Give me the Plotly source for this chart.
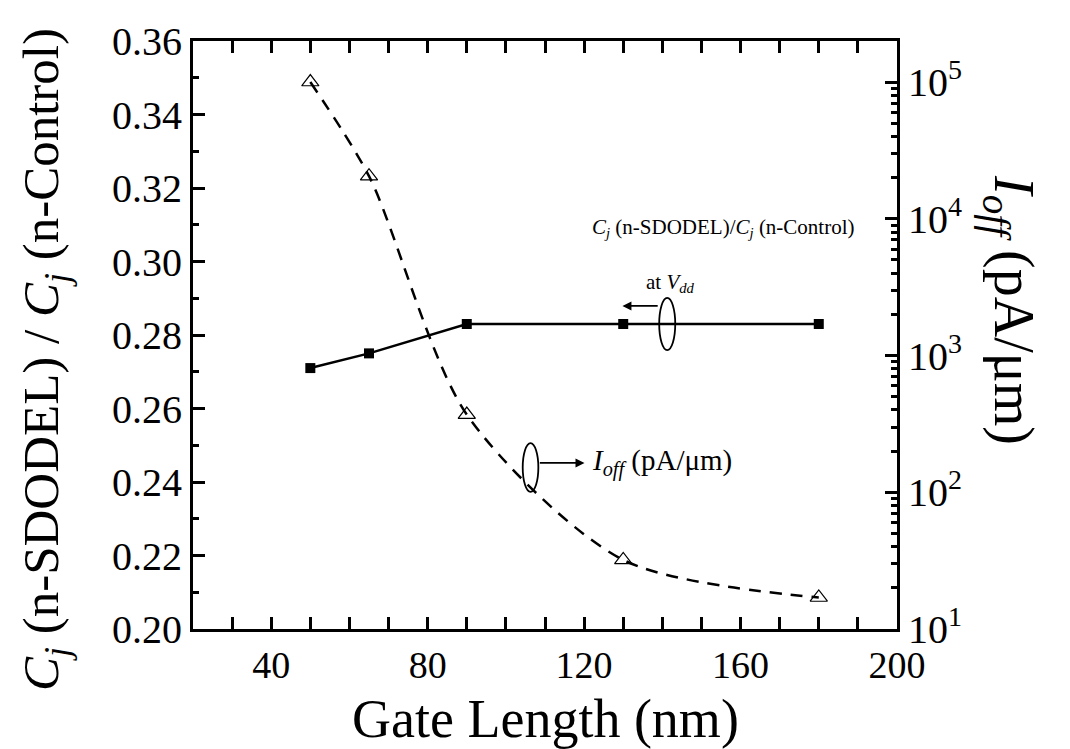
import plotly.graph_objects as go

gate_length = [50, 65, 90, 130, 180]
cj_ratio = [0.271, 0.275, 0.283, 0.283, 0.283]
ioff = [1.0e5, 2.05e4, 370, 32, 17]

x_ticks = [40, 80, 120, 160, 200]
left_ticks = [0.20, 0.22, 0.24, 0.26, 0.28, 0.30, 0.32, 0.34, 0.36]
right_decades = [10, 100, 1000, 10000, 100000]
right_ticktext = ["10<sup>1</sup>", "10<sup>2</sup>", "10<sup>3</sup>", "10<sup>4</sup>", "10<sup>5</sup>"]

FONT = "Liberation Serif"

fig = go.Figure()
fig.add_trace(go.Scatter(
    x=gate_length, y=cj_ratio, mode="lines+markers",
    line=dict(color="black", width=2.5),
    marker=dict(symbol="square", size=10, color="black"),
    yaxis="y", showlegend=False))
fig.add_trace(go.Scatter(
    x=gate_length, y=ioff, mode="lines+markers",
    line=dict(color="black", width=2.5, dash="12px,9px", shape="spline", smoothing=0.8),
    marker=dict(symbol="triangle-up-open", size=15, color="black", line=dict(width=1.2)),
    yaxis="y2", showlegend=False))

minor_log = [m * d for d in [10, 100, 1000, 10000, 100000] for m in range(2, 10)]
minor_log = [v for v in minor_log if v <= 10 ** 5.3]

axis_common = dict(showline=True, linecolor="black", linewidth=3, ticks="inside",
                   tickcolor="black", tickwidth=2.5, showgrid=False, zeroline=False,
                   tickfont=dict(family=FONT, size=40, color="black"))

fig.update_layout(
    width=1070, height=749,
    margin=dict(l=193, r=173, t=41, b=120),
    plot_bgcolor="white", paper_bgcolor="white",
    font=dict(family=FONT, color="black"),
    xaxis=dict(range=[20, 200], tickmode="array", tickvals=x_ticks, ticklen=12,
               mirror="allticks",
               minor=dict(ticks="inside", dtick=10, tick0=0, ticklen=6, tickwidth=2.5, tickcolor="black"),
               **{**axis_common, "tickfont": dict(family=FONT, size=38, color="black")}),
    yaxis=dict(range=[0.20, 0.36], tickmode="array", tickvals=left_ticks, tickformat=".2f",
               ticklen=12,
               minor=dict(ticks="inside", dtick=0.01, tick0=0.2, ticklen=6, tickwidth=2.5, tickcolor="black"),
               **axis_common),
    yaxis2=dict(type="log", range=[1, 5.3], overlaying="y", side="right",
                tickmode="array", tickvals=right_decades, ticktext=right_ticktext, ticklen=12,
                minor=dict(ticks="inside", tickmode="array", tickvals=minor_log, ticklen=6,
                           tickwidth=2.5, tickcolor="black"),
                **axis_common),
)

# ellipses marking series
fig.add_shape(type="circle", xref="x", yref="y", x0=139.2, x1=143.3, y0=0.2759, y1=0.2901,
              line=dict(color="black", width=1.8))
fig.add_shape(type="circle", xref="x", yref="y", x0=104.3, x1=108.3, y0=0.2373, y1=0.2506,
              line=dict(color="black", width=1.8))

# arrows
fig.add_annotation(x=129.8, y=0.2879, ax=139.2, ay=0.2879, xref="x", yref="y", axref="x", ayref="y",
                   showarrow=True, arrowhead=2, arrowsize=1, arrowwidth=1.8, arrowcolor="black", text="")
fig.add_annotation(x=120.1, y=0.2452, ax=108.3, ay=0.2452, xref="x", yref="y", axref="x", ayref="y",
                   showarrow=True, arrowhead=2, arrowsize=1, arrowwidth=1.8, arrowcolor="black", text="")

fig.add_annotation(x=121.4, y=0.3091, xref="x", yref="y", xanchor="left", yanchor="middle", showarrow=False,
                   text="<i>C</i><sub><i>j</i></sub> (n-SDODEL)/<i>C</i><sub><i>j</i></sub> (n-Control)",
                   font=dict(family=FONT, size=21, color="black"))
fig.add_annotation(x=135.4, y=0.2941, xref="x", yref="y", xanchor="left", yanchor="middle", showarrow=False,
                   text="at <i>V</i><sub><i>dd</i></sub>",
                   font=dict(family=FONT, size=21, color="black"))
fig.add_annotation(x=121.6, y=0.2452, xref="x", yref="y", xanchor="left", yanchor="middle", showarrow=False,
                   text="<i>I</i><sub><i>off</i></sub> (pA/μm)",
                   font=dict(family=FONT, size=29, color="black"))

# axis titles
fig.add_annotation(x=0.5, y=-0.153, xref="paper", yref="paper", showarrow=False,
                   text="Gate Length (nm)", xanchor="center", yanchor="middle",
                   font=dict(family=FONT, size=54, color="black"))
fig.add_annotation(x=-0.2102, y=0.4575, xref="paper", yref="paper", showarrow=False, textangle=-90,
                   text="<i>C</i><sub><i>j</i></sub> (n-SDODEL) / <i>C</i><sub><i>j</i></sub> (n-Control)",
                   xanchor="center", yanchor="middle",
                   font=dict(family=FONT, size=51, color="black"))
fig.add_annotation(x=1.1605, y=0.5425, xref="paper", yref="paper", showarrow=False, textangle=90,
                   text="<i>I</i><sub><i>off</i></sub> (pA/μm)",
                   xanchor="center", yanchor="middle",
                   font=dict(family=FONT, size=56, color="black"))

fig.write_html("out.html")
